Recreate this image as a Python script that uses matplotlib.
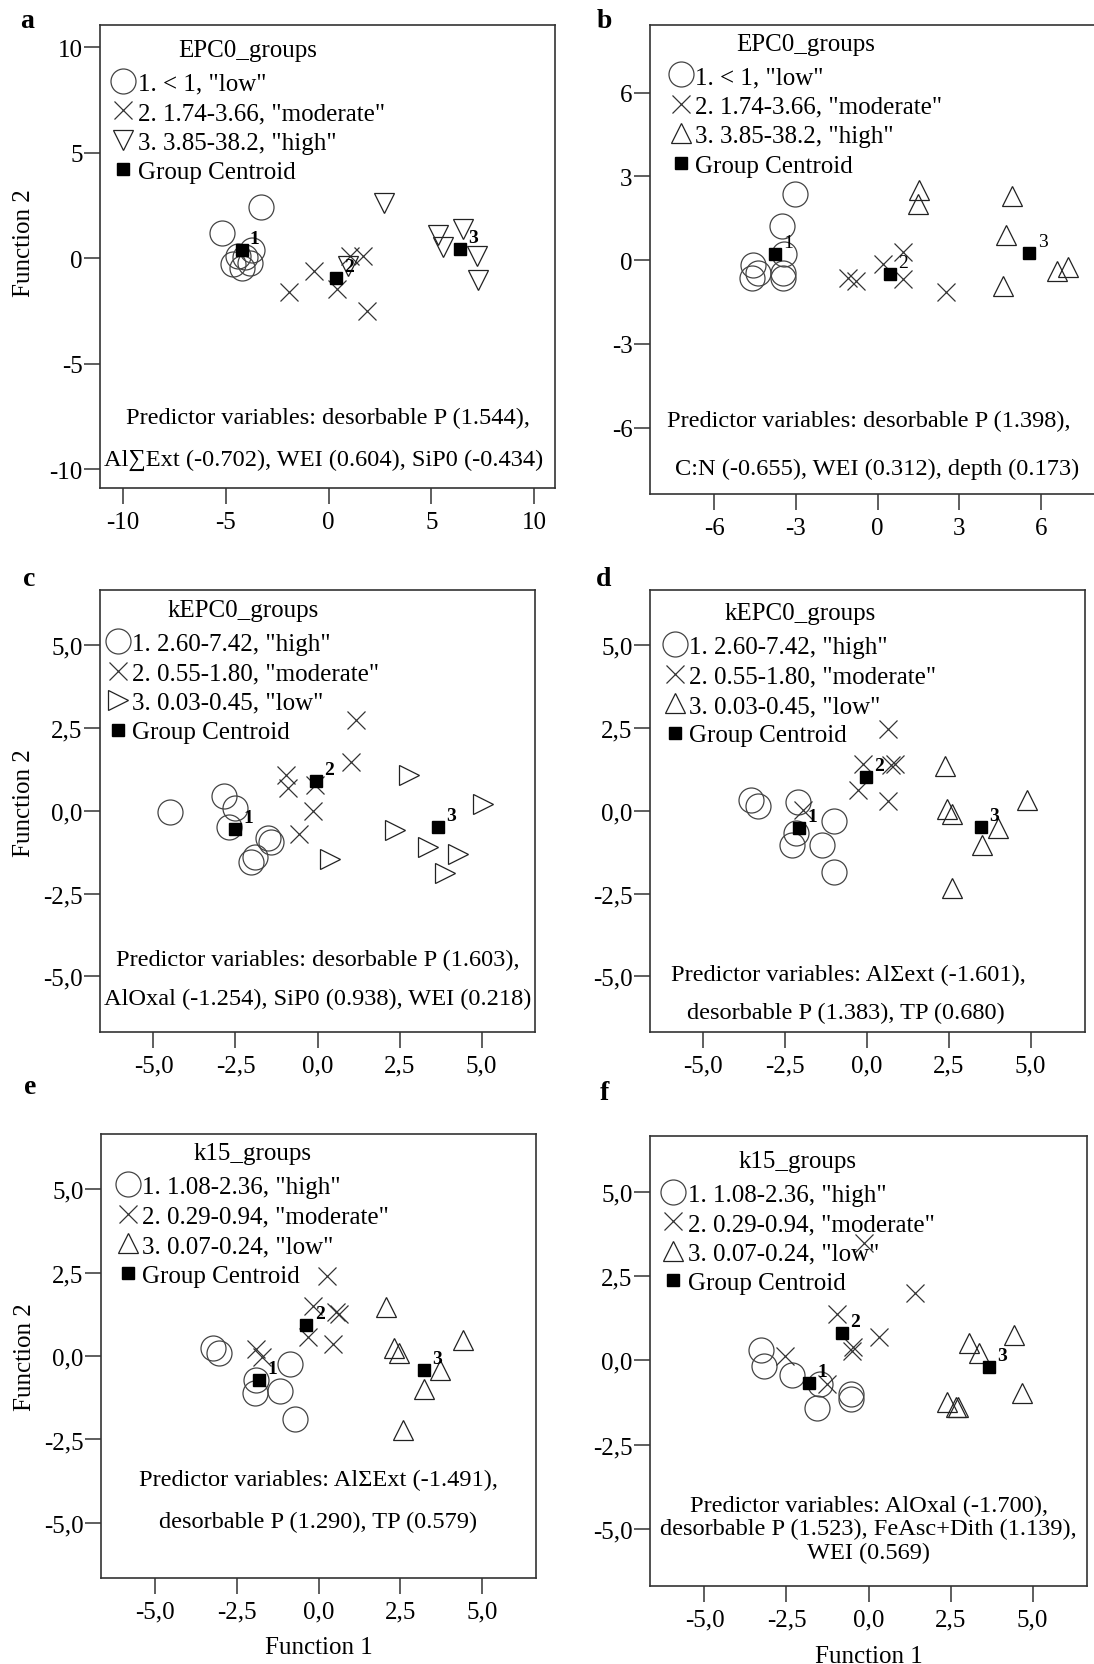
import matplotlib
matplotlib.use('Agg')
import matplotlib.pyplot as plt
from matplotlib.lines import Line2D

plt.rcParams['font.family'] = ['Liberation Serif', 'DejaVu Serif']

# ---- panel a : EPC0 groups, discriminant scores ----
a_g1_x = [-3.3, -5.17, -3.73, -4.07, -4.66, -4.24, -3.81, -4.4]
a_g1_y = [2.45, 1.2, 0.38, 0.05, -0.28, -0.45, -0.2, 0.13]
a_g2_x = [-1.95, -0.73, 0.42, 1.02, 1.69, 1.86]
a_g2_y = [-1.6, -0.61, -1.44, 0.13, 0.13, -2.51]
a_g3_x = [2.71, 5.34, 5.59, 6.53, 7.2, 7.29, 0.93]
a_g3_y = [2.61, 1.12, 0.55, 1.37, 0.13, -1.02, -0.36]
a_cen_x = [-4.24, 0.34, 6.41]
a_cen_y = [0.38, -0.94, 0.46]

# ---- panel b ----
b_g1_x = [-3.04, -3.51, -3.42, -4.57, -4.38, -4.63, -3.49, -3.49]
b_g1_y = [2.38, 1.21, 0.23, -0.16, -0.47, -0.65, -0.47, -0.63]
b_g2_x = [-1.1, -0.8, 0.22, 0.92, 0.92, 2.51]
b_g2_y = [-0.65, -0.75, -0.13, 0.29, -0.67, -1.14]
b_g3_x = [1.53, 1.49, 4.94, 4.72, 4.62, 6.6, 7.01]
b_g3_y = [2.5, 2.01, 2.29, 0.91, -0.92, -0.37, -0.26]
b_cen_x = [-3.78, 0.45, 5.58]
b_cen_y = [0.21, -0.49, 0.25]

# ---- panel c ----
c_g1_x = [-4.51, -2.84, -2.52, -2.7, -1.51, -1.43, -1.9, -2.02]
c_g1_y = [-0.03, 0.45, 0.1, -0.5, -0.83, -0.95, -1.39, -1.54]
c_g2_x = [1.17, 1.02, -0.95, -0.89, -0.15, -0.57, -0.07]
c_g2_y = [2.74, 1.46, 1.07, 0.7, 0.0, -0.7, 0.77]
c_g3_x = [2.8, 5.03, 2.37, 3.38, 4.29, 3.89, 0.38]
c_g3_y = [1.07, 0.2, -0.57, -1.1, -1.29, -1.89, -1.44]
c_cen_x = [-2.52, -0.04, 3.68]
c_cen_y = [-0.55, 0.9, -0.5]

# ---- panel d ----
d_g1_x = [-3.54, -3.32, -2.1, -1.01, -2.18, -2.29, -1.36, -1.01]
d_g1_y = [0.34, 0.14, 0.27, -0.3, -0.66, -1.03, -1.03, -1.86]
d_g2_x = [0.64, -0.11, 0.74, 0.85, -0.27, 0.64, -1.97]
d_g2_y = [2.48, 1.41, 1.38, 1.41, 0.62, 0.3, 0.02]
d_g3_x = [2.39, 2.45, 2.61, 4.89, 3.99, 3.51, 2.59]
d_g3_y = [1.35, 0.07, -0.1, 0.34, -0.53, -1.03, -2.34]
d_cen_x = [-2.07, -0.03, 3.48]
d_cen_y = [-0.51, 1.02, -0.48]

# ---- panel e ----
e_g1_x = [-3.24, -3.03, -0.87, -1.91, -1.94, -1.17, -0.71]
e_g1_y = [0.24, 0.08, -0.25, -0.71, -1.11, -1.06, -1.89]
e_g2_x = [0.27, -0.16, 0.55, 0.64, -0.32, 0.45, -1.91, -1.72]
e_g2_y = [2.4, 1.51, 1.32, 1.26, 0.56, 0.37, 0.21, -0.03]
e_g3_x = [2.05, 2.32, 2.47, 4.41, 3.7, 3.24, 2.59]
e_g3_y = [1.48, 0.24, 0.08, 0.48, -0.41, -0.98, -2.23]
e_cen_x = [-1.83, -0.37, 3.22]
e_cen_y = [-0.71, 0.92, -0.41]

# ---- panel f ----
f_g1_x = [-3.28, -3.18, -2.34, -1.49, -0.53, -0.53, -1.58]
f_g1_y = [0.3, -0.16, -0.43, -0.69, -0.99, -1.15, -1.42]
f_g2_x = [-0.13, 1.42, -0.95, 0.32, -0.47, -0.51, -2.53, -1.28]
f_g2_y = [3.47, 2.01, 1.37, 0.69, 0.39, 0.29, 0.14, -0.69]
f_g3_x = [4.44, 3.07, 3.37, 4.68, 2.4, 2.68, 2.74]
f_g3_y = [0.75, 0.5, 0.21, -0.96, -1.23, -1.37, -1.39]
f_cen_x = [-1.81, -0.82, 3.66]
f_cen_y = [-0.67, 0.82, -0.21]

titles = ['EPC0_groups', 'EPC0_groups', 'kEPC0_groups', 'kEPC0_groups',
          'k15_groups', 'k15_groups']
epc_labels_a = ['1. < 1, "low"', '2. 1.74-3.66, "moderate"', '3. 3.85-38.2, "high"', 'Group Centroid']
kepc_labels = ['1. 2.60-7.42, "high"', '2. 0.55-1.80, "moderate"', '3. 0.03-0.45, "low"', 'Group Centroid']
k15_labels = ['1. 1.08-2.36, "high"', '2. 0.29-0.94, "moderate"', '3. 0.07-0.24, "low"', 'Group Centroid']

pred_a = ['Predictor variables: desorbable P (1.544),',
          'Al\u2211Ext (-0.702), WEI (0.604), SiP0 (-0.434)']
pred_b = ['Predictor variables: desorbable P (1.398),',
          'C:N (-0.655), WEI (0.312), depth (0.173)']
pred_c = ['Predictor variables: desorbable P (1.603),',
          'AlOxal (-1.254), SiP0 (0.938), WEI (0.218)']
pred_d = ['Predictor variables: Al\u03a3ext (-1.601),',
          'desorbable P (1.383), TP (0.680)']
pred_e = ['Predictor variables: Al\u03a3Ext (-1.491),',
          'desorbable P (1.290), TP (0.579)']
pred_f = ['Predictor variables: AlOxal (-1.700),',
          'desorbable P (1.523), FeAsc+Dith (1.139),',
          'WEI (0.569)']

ticks_a = [-10, -5, 0, 5, 10]
ticks_b = [-6, -3, 0, 3, 6]
ticks_k = [-5.0, -2.5, 0.0, 2.5, 5.0]
ticklab_k = ['-5,0', '-2,5', '0,0', '2,5', '5,0']

W, H = 1094, 1665
fig = plt.figure(figsize=(W / 100, H / 100), dpi=100)

GREY = '#333333'
FS = 18


def box(x0, x1, y0, y1):
    return [x0 / W, 1 - y1 / H, (x1 - x0) / W, (y1 - y0) / H]


def panel(rect, g1, g2, g3, cen, tri, title, labels, pred, pred_y, pred_x,
          xlim, ylim, ticks, ticklabels, leg_xy, boldnum=True):
    ax = fig.add_axes(rect)
    st1 = dict(ls='', marker='o', ms=18, mfc='none', mec='#444444', mew=0.9)
    st2 = dict(ls='', marker='x', ms=13, mec='#333333', mew=0.9)
    st3 = dict(ls='', marker=tri, ms=14.5, mfc='none', mec='#222222', mew=0.9)
    st4 = dict(ls='', marker='s', ms=8.5, color='black')
    ax.plot(g1[0], g1[1], **st1)
    ax.plot(g2[0], g2[1], **st2)
    ax.plot(g3[0], g3[1], **st3)
    ax.plot(cen[0], cen[1], **st4)
    for i, (cx, cy) in enumerate(zip(cen[0], cen[1])):
        ax.annotate(str(i + 1), (cx, cy), xytext=(6, 5), textcoords='offset points',
                    fontsize=14, fontweight='bold' if boldnum else 'normal')
    ax.set_xlim(xlim)
    ax.set_ylim(ylim)
    ax.set_xticks(ticks, ticklabels)
    ax.set_yticks(ticks, ticklabels)
    ax.tick_params(direction='out', length=11.5, width=1.1, color=GREY,
                   labelsize=FS, top=False, right=False)
    ax.tick_params(axis='y', pad=1)
    ax.tick_params(axis='x', pad=5)
    for s in ax.spines.values():
        s.set_color(GREY)
        s.set_linewidth(1.2)
    handles = [Line2D([], [], **st1), Line2D([], [], **st2),
               Line2D([], [], **st3), Line2D([], [], **st4)]
    leg = ax.legend(handles, labels, title=title, loc='upper left', bbox_to_anchor=leg_xy,
                    frameon=False, fontsize=FS, title_fontsize=FS, handlelength=0.95,
                    handletextpad=0.1, labelspacing=0.28, borderpad=0, borderaxespad=0)
    leg._legend_box.sep = 8  # a little more room under the title
    for line, y, x in zip(pred, pred_y, pred_x):
        ax.text(x, y, line, transform=ax.transAxes, ha='center', va='center',
                fontsize=17.6)
    return ax


ax_a = panel(box(100, 555, 26, 489), (a_g1_x, a_g1_y), (a_g2_x, a_g2_y), (a_g3_x, a_g3_y),
             (a_cen_x, a_cen_y), 'v', titles[0], epc_labels_a, pred_a, [0.152, 0.061],
             [0.5, 0.492], (-11.13, 11.02), (-10.88, 11.06), ticks_a,
             [str(t) for t in ticks_a], (0.025, 0.970))
ax_b = panel(box(650, 1105, 26, 495), (b_g1_x, b_g1_y), (b_g2_x, b_g2_y), (b_g3_x, b_g3_y),
             (b_cen_x, b_cen_y), '^', titles[1], epc_labels_a, pred_b, [0.157, 0.055],
             [0.48, 0.5], (-8.36, 8.36), (-8.38, 8.43), ticks_b,
             [str(t) for t in ticks_b], (0.042, 0.984), boldnum=False)
ax_c = panel(box(100, 535, 591, 1033), (c_g1_x, c_g1_y), (c_g2_x, c_g2_y), (c_g3_x, c_g3_y),
             (c_cen_x, c_cen_y), '>', titles[2], kepc_labels, pred_c, [0.165, 0.075],
             [0.5, 0.5], (-6.63, 6.63), (-6.68, 6.67), ticks_k, ticklab_k, (0.014, 0.979))
ax_d = panel(box(650, 1085, 591, 1033), (d_g1_x, d_g1_y), (d_g2_x, d_g2_y), (d_g3_x, d_g3_y),
             (d_cen_x, d_cen_y), '^', titles[3], kepc_labels, pred_d, [0.13, 0.044],
             [0.455, 0.45], (-6.63, 6.66), (-6.68, 6.67), ticks_k, ticklab_k, (0.03, 0.972))
ax_e = panel(box(101, 536, 1135, 1579), (e_g1_x, e_g1_y), (e_g2_x, e_g2_y), (e_g3_x, e_g3_y),
             (e_cen_x, e_cen_y), '^', titles[4], k15_labels, pred_e, [0.222, 0.128],
             [0.5, 0.5], (-6.65, 6.65), (-6.65, 6.65), ticks_k, ticklab_k, (0.035, 0.981))
ax_f = panel(box(650, 1087, 1137, 1587), (f_g1_x, f_g1_y), (f_g2_x, f_g2_y), (f_g3_x, f_g3_y),
             (f_cen_x, f_cen_y), '^', titles[5], k15_labels, pred_f, [0.179, 0.128, 0.075],
             [0.5, 0.5, 0.5], (-6.66, 6.66), (-6.69, 6.65), ticks_k, ticklab_k, (0.026, 0.969))

for ax, yc in ((ax_a, 0.53), (ax_c, 0.52), (ax_e, 0.5)):
    ax.set_ylabel('Function 2', fontsize=FS, va='center')
    ax.yaxis.set_label_coords(-(100 - 24) / (ax.get_position().width * W), yc)
for ax in (ax_e, ax_f):
    ax.set_xlabel('Function 1', fontsize=FS, va='center')
    ax.xaxis.set_label_coords(0.5, -0.155)

for letter, (x, y) in zip('abcdef', [(27, 21), (604, 22), (29, 580), (604, 579),
                                      (30, 1087), (604, 1093)]):
    fig.text(x / W, 1 - y / H, letter, fontsize=20, fontweight='bold',
             ha='center', va='center')

fig.savefig('out.png', dpi=100)
